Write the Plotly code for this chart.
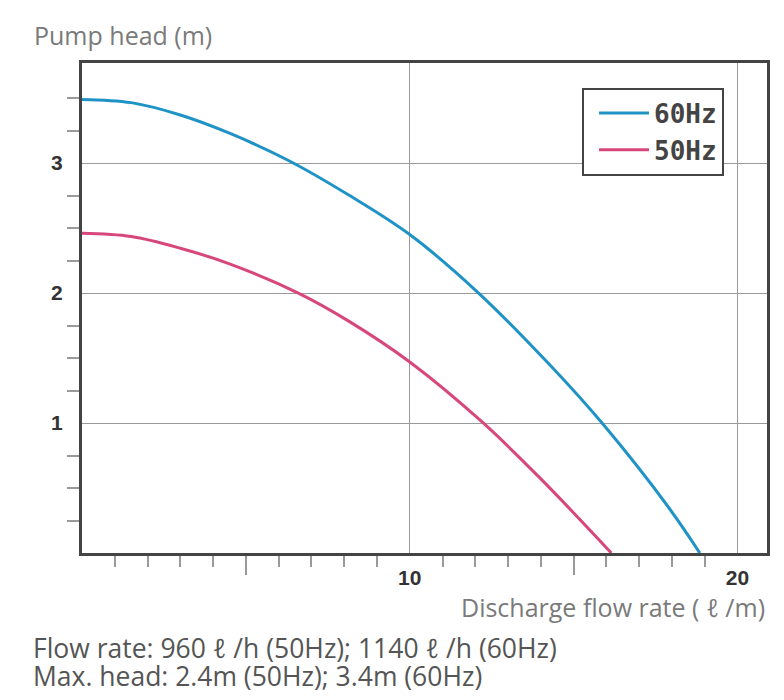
import plotly.graph_objects as go

# Data
flow_60 = [0, 1.5, 3.0, 4.5, 6.3, 8.1, 10.0, 12.1, 14.3, 15.9, 17.9, 18.85]
head_60 = [3.49, 3.465, 3.37, 3.23, 3.02, 2.76, 2.45, 2.0, 1.44, 0.99, 0.35, 0]
flow_50 = [0, 1.5, 3.0, 4.5, 6.6, 8.1, 10.0, 12.2, 14.0, 16.15]
head_50 = [2.46, 2.435, 2.345, 2.225, 2.0, 1.79, 1.47, 1.01, 0.57, 0]

x_labels = [10, 20]
x_long_ticks = [5, 15]
x_minor = [v for v in range(1, 20) if v not in (5, 10, 15)]
y_labels = [1, 2, 3]
y_minor = [q / 4 for q in range(1, 15) if q % 4 != 0]

BLUE = "#1f93c6"
PINK = "#d8477c"
AXIS = "#444444"
GRID = "#9a9a9a"
TICKFONT = dict(family="Liberation Sans", size=21, color="#333", weight="bold")

fig = go.Figure()
fig.add_trace(go.Scatter(x=flow_60, y=head_60, mode="lines", name="60Hz",
                         line=dict(color=BLUE, width=3, shape="spline", smoothing=1.0),
                         xaxis="x2", hoverinfo="x+y"))
fig.add_trace(go.Scatter(x=flow_50, y=head_50, mode="lines", name="50Hz",
                         line=dict(color=PINK, width=3, shape="spline", smoothing=1.0),
                         xaxis="x", hoverinfo="x+y"))

xr = [0, 20.9]
# page has an 8px body margin, so the figure is 8px smaller and shifted accordingly
fig.update_layout(
    width=776, height=692,
    margin=dict(l=74, r=17, t=55, b=147),
    paper_bgcolor="white", plot_bgcolor="white",
    showlegend=True,
    legend=dict(x=0.73, y=0.95, xanchor="left", yanchor="top",
                bordercolor=AXIS, borderwidth=2, bgcolor="white",
                font=dict(family="DejaVu Sans Mono", size=26, color="#444", weight="bold"),
                itemwidth=50, indentation=10, entrywidth=165, entrywidthmode="pixels",
                tracegroupgap=0),
    xaxis=dict(range=xr, tickvals=x_long_ticks, ticks="outside", ticklen=19,
               tickwidth=1.5, tickcolor=GRID, showticklabels=False, showgrid=False,
               zeroline=False, showline=True, linecolor=AXIS, linewidth=3, mirror=True,
               minor=dict(tickvals=x_minor, ticks="outside", ticklen=11, tickwidth=1.5,
                          tickcolor=GRID, showgrid=False)),
    xaxis2=dict(range=xr, overlaying="x", anchor="y", side="bottom", matches="x",
                tickvals=x_labels, ticks="", showgrid=True, gridcolor=GRID, gridwidth=1.3,
                zeroline=False, showline=False, ticklabelstandoff=10, tickfont=TICKFONT),
    yaxis=dict(range=[0, 3.77], tickvals=y_labels, ticks="", showgrid=True,
               gridcolor=GRID, gridwidth=1.3, zeroline=False, showline=True,
               linecolor=AXIS, linewidth=3, mirror=True, ticklabelstandoff=12,
               tickfont=TICKFONT,
               minor=dict(tickvals=y_minor, ticks="outside", ticklen=12, tickwidth=1.5,
                          tickcolor=GRID, showgrid=False)),
)

fig.add_annotation(text="Pump head (m)", xref="paper", yref="paper",
                   x=-0.073, y=1.057, xanchor="left", yanchor="middle", showarrow=False,
                   font=dict(family="Open Sans", size=25, color="#7a7a7a"))
fig.add_annotation(text="Discharge flow rate ( ℓ /m)", xref="paper", yref="paper",
                   x=1.0, y=-0.11, xanchor="right", yanchor="middle", showarrow=False,
                   font=dict(family="Open Sans", size=25, color="#7a7a7a"))
fig.add_annotation(text="Flow rate: 960 ℓ /h (50Hz); 1140 ℓ /h (60Hz)", xref="paper", yref="paper",
                   x=-0.074, y=-0.194, xanchor="left", yanchor="middle", showarrow=False,
                   font=dict(family="Open Sans", size=26.5, color="#555"))
fig.add_annotation(text="Max. head: 2.4m (50Hz); 3.4m (60Hz)", xref="paper", yref="paper",
                   x=-0.074, y=-0.252, xanchor="left", yanchor="middle", showarrow=False,
                   font=dict(family="Open Sans", size=26.5, color="#555"))

fig.write_html("out.html")
